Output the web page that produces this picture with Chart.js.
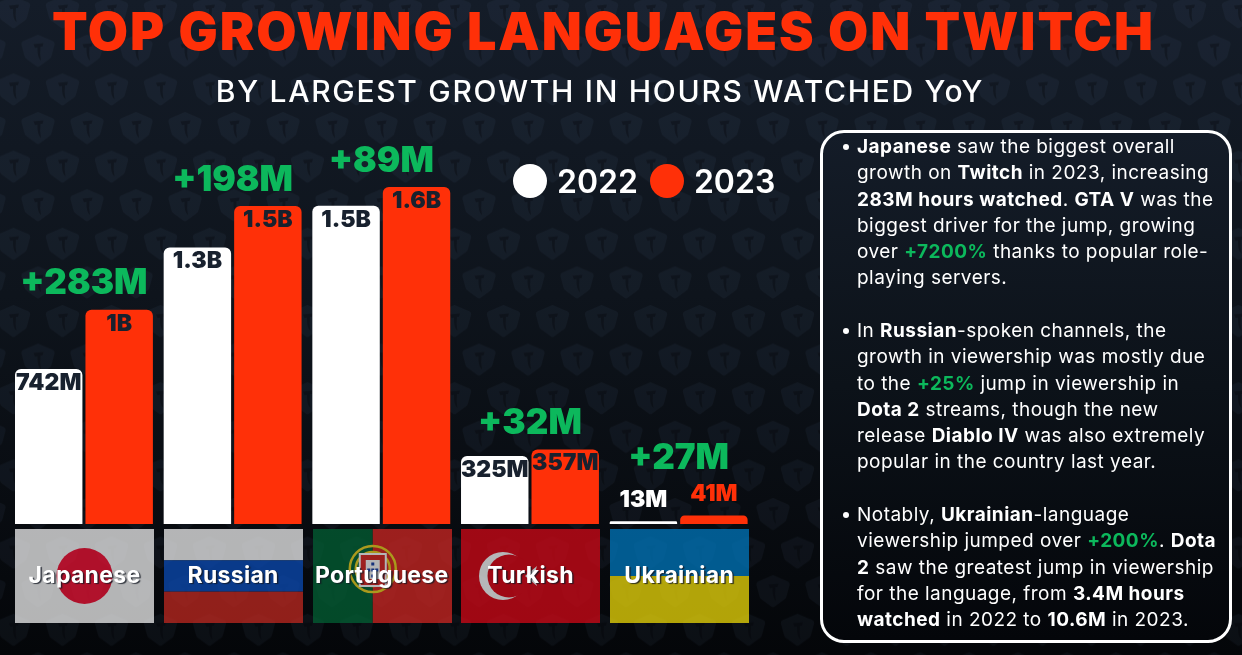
<!DOCTYPE html>
<html>
<head>
<meta charset="utf-8">
<title>Top growing languages on Twitch</title>
<script src="https://cdn.jsdelivr.net/npm/chart.js@4"></script>
<style>
  html, body { margin: 0; padding: 0; }
  body {
    width: 1242px; height: 655px; overflow: hidden; position: relative;
    font-family: Inter, "Noto Sans", sans-serif; color: #fff;
    background: linear-gradient(#141c28 0%, #0e141c 45%, #040609 100%);
  }
  #pattern { position: absolute; inset: 0; }
  #chart { position: absolute; left: 0; top: 0; }
  h1, h2 { position: absolute; margin: 0; white-space: nowrap; left: 0; text-align: center; }
  h1 { top: 0; width: 1207px; line-height: 63px; font-size: 52px; font-weight: 900; letter-spacing: 1.95px; color: #ff3008; }
  h2 { top: 72px; width: 1200px; line-height: 38px; font-size: 30px; font-weight: 500; letter-spacing: 1.7px; }
  #legend { position: absolute; left: 513px; top: 163px; height: 36px; display: flex; align-items: center; font-size: 32px; font-weight: 600; }
  #legend i { width: 34px; height: 34px; border-radius: 50%; margin-right: 10px; }
  #legend span { margin-right: 12px; }
  #panel {
    position: absolute; left: 820px; top: 130px; width: 406px; height: 507px;
    border: 3px solid #fff; border-radius: 24px;
    background: linear-gradient(#141c28 0%, #0c1219 50%, #04060a 100%);
  }
  #notes { position: absolute; left: 34px; top: 1px; white-space: nowrap; font-size: 19px; line-height: 26.28px; letter-spacing: 0.47px; font-weight: 400; }
  #notes b { font-weight: 700; }
  #notes em { font-style: normal; font-weight: 700; color: #0cb85c; }
  #notes u { position: absolute; left: -14px; width: 6px; height: 6px; margin-top: 10px; border-radius: 50%; background: #fff; }
</style>
</head>
<body>
<svg id="pattern" width="1242" height="655">
  <defs>
    <pattern id="shields" width="49" height="77.2" patternUnits="userSpaceOnUse" patternTransform="translate(21 34.8)">
      <g id="sh">
        <path d="M17 0 L32 6.5 Q34 7.5 33.5 10 L30.5 21 Q30 23 28 24.5 L18.5 31.5 Q17 32.5 15.5 31.5 L6 24.5 Q4 23 3.5 21 L0.5 10 Q0 7.5 2 6.5 Z" fill="rgba(120,160,200,.06)"/>
        <path d="M12.5 9.5 L22.5 8.5 L21.5 12 L19.5 12 Q18.5 19 20 26 Q16 22.5 16.5 12.5 L14 13 Z" fill="rgba(0,0,0,.28)"/>
      </g>
      <use href="#sh" x="-24.5" y="38.6"/>
      <use href="#sh" x="24.5" y="38.6"/>
    </pattern>
  </defs>
  <rect width="1242" height="655" fill="url(#shields)"/>
</svg>
<canvas id="chart" width="1242" height="655"></canvas>
<h1>TOP GROWING LANGUAGES ON TWITCH</h1>
<h2>BY LARGEST GROWTH IN HOURS WATCHED YoY</h2>
<div id="legend"></div>
<div id="panel">
  <div id="notes"><u></u><b>Japanese</b> saw the biggest overall<br>growth on <b>Twitch</b> in 2023, increasing<br><b>283M hours watched</b>. <b>GTA V</b> was the<br>biggest driver for the jump, growing<br>over <em>+7200%</em> thanks to popular role-<br>playing servers.<br><br><u></u>In <b>Russian</b>-spoken channels, the<br>growth in viewership was mostly due<br>to the <em>+25%</em> jump in viewership in<br><b>Dota 2</b> streams, though the new<br>release <b>Diablo IV</b> was also extremely<br>popular in the country last year.<br><br><u></u>Notably, <b>Ukrainian</b>-language<br>viewership jumped over <em>+200%</em>. <b>Dota</b><br><b>2</b> saw the greatest jump in viewership<br>for the language, from <b>3.4M hours</b><br><b>watched</b> in 2022 to <b>10.6M</b> in 2023.</div>
</div>
<script>
const languages = ['Japanese', 'Russian', 'Portuguese', 'Turkish', 'Ukrainian'];
const seriesNames = ['2022', '2023'];
const hours2022 = [742, 1323, 1523, 325, 13];
const hours2023 = [1025, 1521, 1612, 357, 41];
const labels2022 = ['742M', '1.3B', '1.5B', '325M', '13M'];
const labels2023 = ['1B', '1.5B', '1.6B', '357M', '41M'];
const growthLabels = ['+283M', '+198M', '+89M', '+32M', '+27M'];
const seriesColors = ['#ffffff', '#ff3008'];

const FONT = 'Inter, "Noto Sans", sans-serif';
const INK = '#18212e';
const GREEN = '#0cb85c';

// legend is plain html, sits in the gap above the small bars
const legendEl = document.getElementById('legend');
seriesNames.forEach((name, i) => {
  legendEl.insertAdjacentHTML('beforeend', `<i style="background:${seriesColors[i]}"></i><span>${name}</span>`);
});

// flags, painted opaque on a scratch canvas and then laid down see-through
const flagPainters = {
  Japanese(c, w, h) {
    c.fillStyle = '#efefef'; c.fillRect(0, 0, w, h);
    c.fillStyle = '#e81335'; c.beginPath(); c.arc(w / 2, h / 2, 28, 0, 7); c.fill();
  },
  Russian(c, w, h) {
    c.fillStyle = '#efefef'; c.fillRect(0, 0, w, h / 3);
    c.fillStyle = '#0b4bb5'; c.fillRect(0, h / 3, w, h / 3);
    c.fillStyle = '#c12820'; c.fillRect(0, 2 * h / 3, w, h / 3);
  },
  Portuguese(c, w, h) {
    c.fillStyle = '#036035'; c.fillRect(0, 0, w * 0.43, h);
    c.fillStyle = '#cf2723'; c.fillRect(w * 0.43, 0, w * 0.57, h);
    const ex = w * 0.43, ey = h / 2 - 7;
    c.strokeStyle = '#e0c820'; c.lineWidth = 2.5;
    c.beginPath(); c.arc(ex, ey, 23, 0, 7); c.stroke();
    c.beginPath(); c.arc(ex, ey, 17, 0, 7); c.stroke();
    c.fillStyle = '#efefef'; c.fillRect(ex - 14, ey - 16, 28, 34);
    c.fillStyle = '#cf2723'; c.fillRect(ex - 12, ey - 14, 24, 30);
    c.fillStyle = '#efefef'; c.fillRect(ex - 7, ey - 9, 14, 19);
    c.fillStyle = '#1d3fa0';
    [[0, -5], [-4, 1], [0, 1], [4, 1], [0, 7]].forEach(p => c.fillRect(ex + p[0] - 1.5, ey + p[1] - 1.5, 3, 3));
  },
  Turkish(c, w, h) {
    c.fillStyle = '#d30817'; c.fillRect(0, 0, w, h);
    c.fillStyle = '#efefef'; c.beginPath(); c.arc(42, h / 2, 24, 0, 7); c.fill();
    c.fillStyle = '#d30817'; c.beginPath(); c.arc(48, h / 2, 21.5, 0, 7); c.fill();
    c.fillStyle = '#efefef';
    c.beginPath(); c.moveTo(64, h / 2); c.lineTo(76, h / 2 - 10); c.lineTo(73, h / 2); c.lineTo(76, h / 2 + 10); c.closePath(); c.fill();
  },
  Ukrainian(c, w, h) {
    c.fillStyle = '#0077bc'; c.fillRect(0, 0, w, h / 2);
    c.fillStyle = '#ecd908'; c.fillRect(0, h / 2, w, h / 2);
  }
};

const flagsPlugin = {
  id: 'flags',
  beforeDatasetsDraw(chart) {
    const ctx = chart.ctx, x = chart.scales.x;
    const top = chart.chartArea.bottom + 5, w = 139, h = 94;
    languages.forEach((lang, i) => {
      const scratch = document.createElement('canvas');
      scratch.width = w; scratch.height = h;
      flagPainters[lang](scratch.getContext('2d'), w, h);
      ctx.save();
      ctx.globalAlpha = 0.75;
      ctx.drawImage(scratch, Math.round(x.getPixelForValue(i) - w / 2 + 1), top);
      ctx.restore();
    });
  }
};

const labelsPlugin = {
  id: 'barLabels',
  afterDatasetsDraw(chart) {
    const ctx = chart.ctx, x = chart.scales.x;
    const texts = [labels2022, labels2023];
    ctx.save();
    ctx.textAlign = 'center';
    ctx.textBaseline = 'middle';

    // value labels: inside the bar, above it when the bar is too short
    ctx.font = `900 23px ${FONT}`;
    chart.data.datasets.forEach((ds, d) => {
      chart.getDatasetMeta(d).data.forEach((bar, i) => {
        const tall = chart.chartArea.bottom - bar.y > 40;
        ctx.fillStyle = tall ? INK : seriesColors[d];
        ctx.fillText(texts[d][i], bar.x, tall ? bar.y + 14 : bar.y - 21);
      });
    });

    // growth figure over each pair
    ctx.font = `900 35px ${FONT}`;
    ctx.fillStyle = GREEN;
    languages.forEach((lang, i) => {
      const topY = Math.min(...chart.data.datasets.map((ds, d) => chart.getDatasetMeta(d).data[i].y));
      const short = chart.chartArea.bottom - topY < 40;
      ctx.fillText(growthLabels[i], x.getPixelForValue(i), topY - (short ? 57 : 26));
    });

    // language names across the flags
    ctx.font = `700 23px ${FONT}`;
    ctx.letterSpacing = '0.3px';
    ctx.fillStyle = '#ffffff';
    ctx.shadowColor = 'rgba(20,25,35,.8)';
    ctx.shadowOffsetX = 1.5;
    ctx.shadowOffsetY = 1.5;
    ctx.shadowBlur = 1;
    languages.forEach((lang, i) => {
      ctx.fillText(lang, x.getPixelForValue(i) + 0.5, chart.chartArea.bottom + 52);
    });
    ctx.restore();
  }
};

new Chart(document.getElementById('chart'), {
  type: 'bar',
  data: {
    labels: languages,
    datasets: [hours2022, hours2023].map((values, i) => ({
      label: seriesNames[i],
      data: values,
      backgroundColor: seriesColors[i],
      borderRadius: { topLeft: 6, topRight: 6 },
      borderSkipped: 'bottom',
      categoryPercentage: 0.948,
      barPercentage: 0.957
    }))
  },
  options: {
    responsive: false,
    animation: false,
    devicePixelRatio: 1,
    layout: { padding: { left: 9.6, right: 489, top: 106, bottom: 131 } },
    scales: {
      x: { display: false },
      y: { display: false, min: 0, max: 2000 }
    },
    plugins: { legend: { display: false }, tooltip: { enabled: false } }
  },
  plugins: [flagsPlugin, labelsPlugin]
});
</script>
</body>
</html>
